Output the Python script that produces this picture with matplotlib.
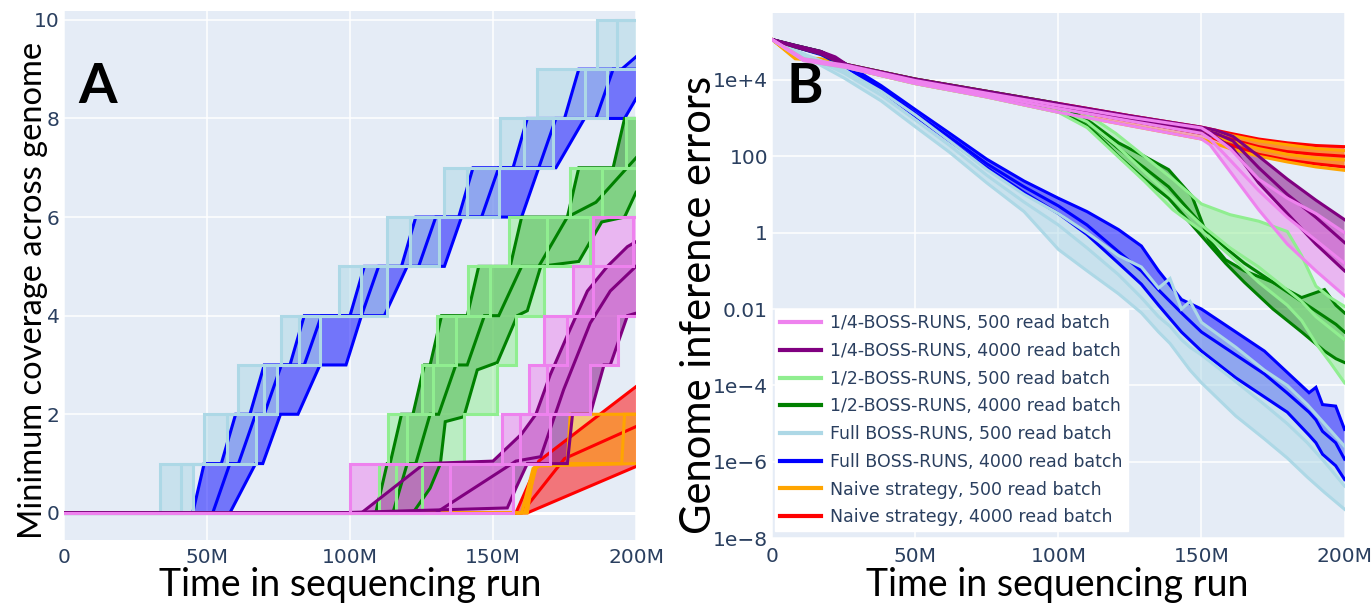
import numpy as np
import matplotlib
matplotlib.use("Agg")
import matplotlib.pyplot as plt
from matplotlib.lines import Line2D

BG = "#E5ECF6"
TICK = "#2a3f5f"

labels = ["1/4-BOSS-RUNS, 500 read batch", "1/4-BOSS-RUNS, 4000 read batch",
          "1/2-BOSS-RUNS, 500 read batch", "1/2-BOSS-RUNS, 4000 read batch",
          "Full BOSS-RUNS, 500 read batch", "Full BOSS-RUNS, 4000 read batch",
          "Naive strategy, 500 read batch", "Naive strategy, 4000 read batch"]
colors = ["violet", "purple", "lightgreen", "green",
          "lightblue", "blue", "orange", "red"]

# ---------------- panel A: minimum coverage (x in millions) ----------------
# 500 read batch runs: time at which each coverage level is reached (upper / mean / lower run)
a_quarter500 = {"up": [100, 153, 162.5, 167.8, 177.8, 184.8],
                "mid": [135, 159.6, 169, 176, 184.8, 198.8],
                "low": [157, 170, 184, 193.6]}
a_half500 = {"up": [110, 113.3, 125, 130.4, 141.4, 155.5, 177, 196.5],
             "mid": [116, 120, 129, 137, 149, 169, 188],
             "low": [125, 139.7, 151.5, 158, 167.8, 184]}
a_full500 = {"up": [33.7, 49, 61, 75.7, 96, 113, 133, 152.6, 165.5, 186.5],
             "mid": [41, 57, 70, 82, 104, 121, 141, 161, 182, 193.5],
             "low": [45.2, 67, 74.5, 89.5, 113, 131, 152, 171, 190]}

# 4000 read batch runs and naive runs: (x, coverage) vertices
a_quarter4000 = {
    "up": ([0, 104, 126, 150, 160, 165, 170, 176, 183, 190, 197, 200],
           [0, 0, 1, 1.05, 1.6, 2, 2.8, 3.6, 4.5, 5.0, 5.4, 5.5]),
    "mid": ([0, 130, 150, 158, 166.7, 174.7, 184, 191, 200],
            [0, 0, 0.75, 1.05, 1.14, 2.5, 3.85, 4.5, 5.0]),
    "low": ([0, 95, 155, 158, 162, 176, 177.8, 184, 188.8, 191, 197, 200],
            [0, 0, 0.1, 0.5, 1, 1, 2, 2, 3, 3, 4, 4.05])}
a_half4000 = {
    "up": ([0, 109, 113, 114, 118, 122, 126, 128, 132, 141, 145, 156, 160, 176, 180, 192, 196, 200],
           [0, 0, 1, 1, 2, 2, 3, 3, 4, 4, 5, 5, 6, 6, 7, 7, 8, 8]),
    "mid": ([0, 115, 120, 123, 128, 131, 137, 141, 147, 152, 160, 166, 176, 186, 200],
            [0, 0, 1, 1, 2, 2, 3, 3, 4, 4, 5, 5, 6, 6.3, 7.2]),
    "low": ([0, 122, 128, 131.6, 133.3, 139.8, 144.5, 151.5, 158.5, 162, 166.7, 180, 188, 196, 200],
            [0, 0, 0.5, 1, 1.85, 1.95, 2.9, 3.05, 4, 4.1, 5, 5.1, 5.9, 6, 6.5])}
a_full4000 = {
    "up": ([0, 45, 49, 55, 60, 65, 70, 79, 84, 100, 105, 118, 123, 138, 143, 157, 162, 175, 180, 195, 200],
           [0, 0, 1, 1, 2, 2, 3, 3, 4, 4, 5, 5, 6, 6, 7, 7, 8, 8, 9, 9, 9.25]),
    "mid": ([0, 52, 58, 61, 67, 70, 76, 84, 90, 104, 110, 124, 130, 146, 152, 166, 172, 186, 192, 200],
            [0, 0, 1, 1, 2, 2, 3, 3, 4, 4, 5, 5, 6, 6, 7, 7, 8, 8, 9, 9]),
    "low": ([0, 58, 67, 69.5, 75.7, 81.8, 89.5, 98.6, 104, 112, 120, 133, 139, 160, 166, 172, 182, 196, 200],
            [0, 0, 1, 1, 2, 2, 3, 3, 4, 4, 5, 5, 6, 6, 7, 7, 8, 8, 8.4])}
a_naive500 = {
    "up": ([0, 160, 164, 166, 176, 177, 200], [0, 0, 0.9, 1, 1, 2, 2]),
    "mid": ([0, 161, 165, 167, 195, 196, 200], [0, 0, 0.9, 1, 1, 2, 2]),
    "low": ([0, 162, 164.3, 165.5, 200], [0, 0, 0.87, 0.95, 1.0])}
a_naive4000 = {
    "up": ([0, 158, 166, 200], [0, 0, 1.05, 2.56]),
    "mid": ([0, 160, 175, 200], [0, 0, 1.1, 1.75]),
    "low": ([0, 162, 200], [0, 0, 0.94])}

# ---------------- panel B: genome inference errors (log10) ----------------
b_x_shallow = [0, 11, 26, 50, 75, 100, 125, 150, 153, 160, 170, 180, 190, 200]
b_quarter500 = {"up": [5.05, 4.55, 4.38, 3.98, 3.65, 3.33, 3.02, 2.74, 2.6, 2.2, 1.4, 0.9, 0.5, 0.0],
                "mid": [5.05, 4.52, 4.35, 3.95, 3.6, 3.25, 2.92, 2.6, 2.45, 1.9, 1.1, 0.4, -0.2, -0.8],
                "low": [5.05, 4.5, 4.32, 3.9, 3.55, 3.15, 2.8, 2.45, 2.3, 1.6, 0.6, -0.3, -1.0, -1.65]}
b_x_quarter4000 = [0, 8, 17, 22, 26, 50, 75, 100, 125, 150, 155, 161, 170, 180, 190, 200]
b_quarter4000 = {"up": [5.05, 4.9, 4.74, 4.6, 4.4, 4.02, 3.7, 3.38, 3.06, 2.76, 2.68, 2.52, 2.0, 1.4, 0.85, 0.34],
                 "mid": [5.05, 4.88, 4.7, 4.55, 4.38, 3.98, 3.65, 3.32, 3.0, 2.68, 2.6, 2.4, 1.7, 1.0, 0.4, -0.26],
                 "low": [5.05, 4.86, 4.68, 4.5, 4.35, 3.94, 3.6, 3.26, 2.93, 2.6, 2.5, 2.2, 1.3, 0.5, -0.3, -1.0]}
b_x_half500 = [0, 11, 26, 50, 75, 100, 110, 120, 130, 140, 150, 160, 170, 180, 185, 190, 195, 200]
b_half500 = {"up": [5.05, 4.55, 4.38, 3.98, 3.65, 3.33, 3.1, 2.6, 2.0, 1.4, 0.75, 0.47, 0.3, 0.03, -0.6, -1.4, -1.7, -1.93],
             "mid": [5.05, 4.52, 4.35, 3.95, 3.6, 3.25, 2.9, 2.3, 1.6, 0.9, 0.2, -0.4, -0.9, -1.5, -1.8, -2.2, -2.5, -2.8],
             "low": [5.05, 4.5, 4.32, 3.9, 3.55, 3.15, 2.75, 2.05, 1.35, 0.6, 0.05, -0.6, -1.3, -1.9, -2.3, -2.9, -3.4, -3.93]}
b_x_half4000 = [0, 8, 17, 26, 50, 75, 100, 111.6, 121, 130, 138.5, 146.7, 152.5, 158.4, 165, 175, 185, 193, 197, 200]
b_half4000 = {"up": [5.05, 4.9, 4.74, 4.4, 4.02, 3.7, 3.38, 2.87, 2.35, 2.0, 1.65, 0.95, -0.18, -0.71, -1.0, -1.3, -1.7, -1.49, -1.9, -2.1],
              "mid": [5.05, 4.88, 4.7, 4.38, 3.98, 3.65, 3.32, 2.8, 2.2, 1.7, 1.2, 0.5, 0.0, -0.4, -0.8, -1.3, -1.8, -2.2, -2.4, -2.6],
              "low": [5.05, 4.86, 4.68, 4.35, 3.94, 3.6, 3.26, 2.7, 2.0, 1.4, 0.9, 0.2, -0.3, -0.8, -1.3, -2.0, -2.6, -3.1, -3.3, -3.4]}
b_x_full500 = [0, 12, 25, 38, 50, 62, 75, 88, 100, 110, 121, 129, 135, 139, 143, 146, 150, 162, 172, 180, 187, 193, 200]
b_full500 = {"up": [5.05, 4.65, 4.26, 3.7, 3.08, 2.4, 1.65, 1.0, 0.5, 0.0, -0.6, -0.9, -1.45, -1.2, -2.0, -1.8, -2.35, -3.0, -3.6, -4.0, -4.5, -5.0, -5.59],
             "mid": [5.05, 4.62, 4.18, 3.6, 2.95, 2.28, 1.5, 0.8, 0.2, -0.4, -1.1, -1.7, -2.2, -2.45, -2.8, -3.0, -3.2, -3.9, -4.5, -5.0, -5.5, -6.0, -6.63],
             "low": [5.05, 4.58, 4.05, 3.45, 2.77, 2.1, 1.3, 0.55, -0.44, -1.0, -1.6, -2.1, -2.6, -2.9, -3.3, -3.6, -3.93, -4.8, -5.4, -5.9, -6.4, -6.8, -7.24]}
b_x_full4000 = [0, 8, 17, 26, 38, 50, 62, 75, 88, 100, 110, 121, 129, 135, 143, 150, 162, 172, 180, 187.6, 190, 192.3, 196.9, 200]
b_full4000 = {"up": [5.05, 4.9, 4.74, 4.4, 3.85, 3.22, 2.6, 1.92, 1.35, 0.9, 0.55, 0.08, -0.35, -1.0, -1.75, -2.0, -2.6, -3.1, -3.66, -4.19, -4.05, -4.5, -4.54, -5.15],
              "mid": [5.05, 4.88, 4.7, 4.36, 3.78, 3.12, 2.5, 1.8, 1.2, 0.7, 0.2, -0.5, -1.0, -1.5, -2.1, -2.6, -3.2, -3.7, -4.2, -4.7, -4.9, -5.2, -5.5, -5.93],
              "low": [5.05, 4.86, 4.66, 4.32, 3.72, 3.05, 2.4, 1.7, 1.05, 0.5, -0.05, -0.8, -1.35, -1.9, -2.6, -3.1, -3.8, -4.3, -4.7, -5.3, -5.5, -5.8, -6.1, -6.46]}
b_x_naive = [0, 8, 17, 26, 50, 75, 100, 125, 150, 160, 170, 180, 190, 200]
b_naive4000 = {"up": [5.05, 4.9, 4.74, 4.4, 4.02, 3.7, 3.38, 3.06, 2.76, 2.6, 2.45, 2.35, 2.28, 2.25],
               "mid": [5.05, 4.88, 4.7, 4.38, 3.98, 3.65, 3.32, 3.0, 2.68, 2.45, 2.25, 2.12, 2.05, 2.0],
               "low": [5.05, 4.86, 4.68, 4.35, 3.94, 3.6, 3.26, 2.93, 2.6, 2.3, 2.05, 1.9, 1.8, 1.72]}
b_naive500 = {"up": [5.05, 4.6, 4.55, 4.38, 3.98, 3.65, 3.33, 3.02, 2.74, 2.55, 2.4, 2.3, 2.2, 2.15],
              "mid": [5.05, 4.58, 4.52, 4.35, 3.95, 3.6, 3.25, 2.92, 2.6, 2.4, 2.2, 2.05, 1.95, 1.9],
              "low": [5.05, 4.55, 4.5, 4.32, 3.9, 3.55, 3.15, 2.8, 2.45, 2.2, 2.0, 1.85, 1.72, 1.63]}


def steps(jumps):
    xs, ys, lvl = [0], [0], 0
    for t in jumps:
        xs += [t, t]
        ys += [lvl, lvl + 1]
        lvl += 1
    xs.append(200)
    ys.append(lvl)
    return np.array(xs, float), np.array(ys, float)


def band(ax, lines, color, lw=2.2):
    (xu, yu), (xl, yl) = lines["up"], lines["low"]
    ax.fill(np.r_[xu, xl[::-1]], np.r_[yu, yl[::-1]], color=color, alpha=0.5, lw=0)
    for key in ("low", "mid", "up"):
        x, y = lines[key]
        ax.plot(x, y, color=color, lw=lw, solid_joinstyle="miter")


def style(ax):
    ax.set_facecolor(BG)
    for s in ax.spines.values():
        s.set_visible(False)
    ax.grid(True, color="white", lw=1.1)
    ax.set_axisbelow(True)
    ax.tick_params(length=0, colors=TICK, labelsize=14.5)
    ax.set_xlim(0, 200)
    ax.set_xticks([0, 50, 100, 150, 200])
    ax.set_xticklabels(["0", "50M", "100M", "150M", "200M"])
    ax.tick_params(axis="x", pad=6)
    ax.tick_params(axis="y", pad=3)


fig = plt.figure(figsize=(13.71, 6.03), dpi=100)
axA = fig.add_axes([0.0467, 0.1045, 0.4172, 0.8773])
axB = fig.add_axes([0.5633, 0.1073, 0.4174, 0.8706])

# panel A, drawn in reverse legend order so 500-batch runs sit on top
a_sets = [("step", a_quarter500), ("xy", a_quarter4000), ("step", a_half500), ("xy", a_half4000),
          ("step", a_full500), ("xy", a_full4000), ("xy", a_naive500), ("xy", a_naive4000)]
for (kind, data), c in list(zip(a_sets, colors))[::-1]:
    if kind == "step":
        lines = {k: steps(v) for k, v in data.items()}
    else:
        lines = {k: (np.array(v[0], float), np.array(v[1], float)) for k, v in data.items()}
    band(axA, lines, c)

style(axA)
axA.set_ylim(-0.55, 10.18)
axA.set_yticks([0, 2, 4, 6, 8, 10])
axA.axhline(0, color="white", lw=2.2, zorder=0.5)

# panel B
b_sets = [(b_x_shallow, b_quarter500), (b_x_quarter4000, b_quarter4000),
          (b_x_half500, b_half500), (b_x_half4000, b_half4000),
          (b_x_full500, b_full500), (b_x_full4000, b_full4000),
          (b_x_naive, b_naive500), (b_x_naive, b_naive4000)]
for (xs, data), c in list(zip(b_sets, colors))[::-1]:
    x = np.array(xs, float)
    lines = {k: (x, 10.0 ** np.array(v)) for k, v in data.items()}
    band(axB, lines, c)

axB.set_yscale("log")
style(axB)
axB.set_ylim(1e-8, 10 ** 5.74)
axB.set_yticks([1e4, 1e2, 1, 1e-2, 1e-4, 1e-6, 1e-8])
axB.set_yticklabels(["1e+4", "100", "1", "0.01", "1e\u22124", "1e\u22126", "1e\u22128"])
axB.minorticks_off()

handles = [Line2D([], [], color=c, lw=3) for c in colors]
leg = axB.legend(handles, labels, loc="lower left", bbox_to_anchor=(0.004, 0.013),
                 frameon=True, fancybox=False, framealpha=1, edgecolor="white",
                 prop={"size": 12.5}, labelspacing=0.56,
                 handlelength=2.4, handletextpad=0.5, borderpad=0.3, borderaxespad=0)
for t in leg.get_texts():
    t.set_color(TICK)

# titles and panel letters
W, H = 1371, 603
fig.text(350 / W, 1 - 585 / H, "Time in sequencing run", ha="center", va="center",
         fontsize=27, fontfamily="Lato")
fig.text(1057 / W, 1 - 585 / H, "Time in sequencing run", ha="center", va="center",
         fontsize=27, fontfamily="Lato")
fig.text(33 / W, 1 - 290 / H, "Minimum coverage across genome", ha="center", va="center",
         rotation=90, fontsize=23.5, fontfamily="Lato")
fig.text(699 / W, 1 - 305 / H, "Genome inference errors", ha="center", va="center",
         rotation=90, fontsize=30, fontfamily="Lato")
fig.text(98 / W, 1 - 87 / H, "A", ha="center", va="center", fontsize=40,
         fontweight="bold", fontfamily="Lato")
fig.text(805 / W, 1 - 87 / H, "B", ha="center", va="center", fontsize=40,
         fontweight="bold", fontfamily="Lato")

fig.savefig("out.png", dpi=100)
